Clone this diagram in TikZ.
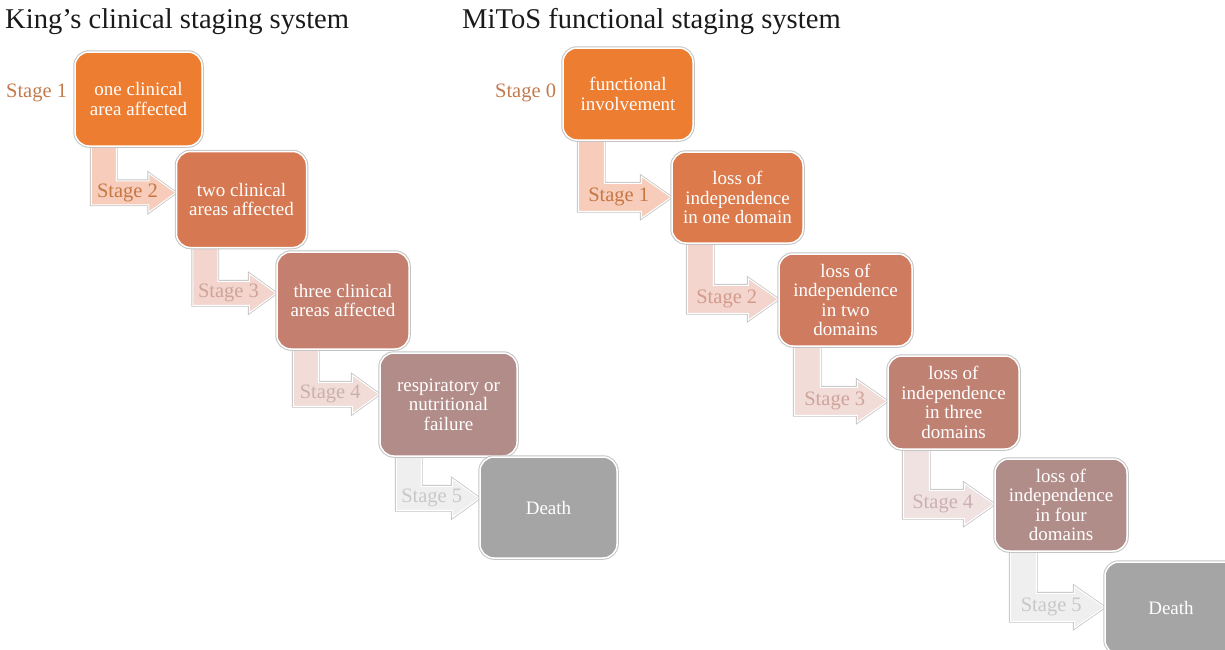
\documentclass[tikz,border=0pt]{standalone}
\usepackage{fontspec}
\setmainfont{Liberation Serif}
\usetikzlibrary{calc,backgrounds}
\definecolor{LA}{HTML}{ED7D31}
\definecolor{LB}{HTML}{D67851}
\definecolor{LC}{HTML}{C47F6E}
\definecolor{LD}{HTML}{B28C88}
\definecolor{GR}{HTML}{A5A5A5}
\definecolor{RB}{HTML}{DC7A4B}
\definecolor{RC}{HTML}{CE7B5F}
\definecolor{RD}{HTML}{BF8172}
\definecolor{RE}{HTML}{B18D8A}
\definecolor{AF1}{HTML}{F7CCBA}
\definecolor{AF2}{HTML}{F3D5CD}
\definecolor{AF3}{HTML}{F1DCD8}
\definecolor{AF4}{HTML}{EFE2E1}
\definecolor{AF5}{HTML}{EFEFEF}
\definecolor{TA}{HTML}{C27A4C}
\definecolor{TB}{HTML}{C67744}
\definecolor{TC}{HTML}{D49A8B}
\definecolor{TD}{HTML}{CFA39B}
\definecolor{TE}{HTML}{CDB0AD}
\definecolor{TF}{HTML}{C8C8C8}
\definecolor{boxedge}{HTML}{C4C4C4}
\definecolor{arredge}{HTML}{C4C4C4}
\definecolor{ttl}{HTML}{1A1A1A}
\tikzset{
  box/.style={rounded corners=14pt, text=white, align=center,
    font=\fontsize{19}{19.5}\selectfont, inner sep=0pt,
    line width=1.5pt, draw=white, preaction={draw=boxedge, line width=3.5pt}},
  arr/.style={line width=1pt, draw=white, line join=miter,
    preaction={draw=arredge, line width=2.6pt}},
  stagein/.style={font=\fontsize{20.5}{24}\selectfont, inner sep=0pt},
  stageout/.style={font=\fontsize{20.5}{24}\selectfont, inner sep=0pt, anchor=east},
  ttlstyle/.style={font=\fontsize{28.6}{32}\selectfont, inner sep=0pt, anchor=base west, text=ttl},
}
\newcommand\bend[6]{%
  \coordinate (#6s) at ($(#1.south west)+(\SO,-4)$);
  \coordinate (#6t) at ($(#2.north west)+(0,\TDN)$);
  \draw[arr, fill=#3] (#6s) -- ++(\SW,0) |- ($(#6t)+(-\HL,-\SH/2)$)
     -- ($(#6t)+(-\HL,-\HH/2)$) -- (#6t) -- ($(#6t)+(-\HL,\HH/2)$)
     -- ($(#6t)+(-\HL,\SH/2)$) -| (#6s) -- cycle;
  \node[stagein, text=#4] (#6) at ($(#6s |- #6t)!0.5!(#6t)+(-6,0)$) {#5};
}
\begin{document}
\begin{tikzpicture}[x=1pt, y=-1pt]
\useasboundingbox (0,0) rectangle (1225,649);
\clip (0,0) rectangle (1225,649);

\node[ttlstyle] (T1) at (5,28) {King’s clinical staging system};
\node[ttlstyle] (T2) at (462,28) {MiToS functional staging system};

% left chain
\node[box, fill=LA, minimum width=127pt, minimum height=94pt] (L1) at (138.5,99) {one clinical\\area affected};
\node[box, fill=LB, minimum width=130pt, minimum height=96pt] (L2) at (241.5,199.5) {two clinical\\areas affected};
\node[box, fill=LC, minimum width=132pt, minimum height=97pt] (L3) at (343,300.5) {three clinical\\areas affected};
\node[box, fill=LD, minimum width=137pt, minimum height=103pt] (L4) at (448.5,404.5) {respiratory or\\nutritional\\failure};
\node[box, fill=GR, minimum width=137pt, minimum height=101pt] (L5) at (548.5,507.5) {Death};
\node[stageout, text=TA] (L1lab) at ($(L1.west)+(-7,-6)$) {Stage 1};

% right chain
\node[box, fill=LA, minimum width=130pt, minimum height=92pt] (R0) at (628,94) {functional\\involvement};
\node[box, fill=RB, minimum width=131pt, minimum height=91pt] (R1) at (737.5,197.5) {loss of\\independence\\in one domain};
\node[box, fill=RC, minimum width=133pt, minimum height=92pt] (R2) at (845.5,300) {loss of\\independence\\in two\\domains};
\node[box, fill=RD, minimum width=131pt, minimum height=93pt] (R3) at (953.5,402.5) {loss of\\independence\\in three\\domains};
\node[box, fill=RE, minimum width=132pt, minimum height=92pt] (R4) at (1061,505) {loss of\\independence\\in four\\domains};
\node[box, fill=GR, minimum width=132pt, minimum height=92pt] (R5) at (1171,608) {Death};
\node[stageout, text=TA] (R0lab) at ($(R0.west)+(-6,-1)$) {Stage 0};

\begin{pgfonlayer}{background}
\def\SO{17}\def\SW{25}\def\TDN{42}\def\SH{24}\def\HH{39}\def\HL{27}
\bend{L1}{L2}{AF1}{TB}{Stage 2}{LA2}
\bend{L2}{L3}{AF2}{TD}{Stage 3}{LA3}
\bend{L3}{L4}{AF3}{TE}{Stage 4}{LA4}
\bend{L4}{L5}{AF5}{TF}{Stage 5}{LA5}
\def\SO{16}\def\SW{26}\def\TDN{46}\def\SH{28}\def\HH{42}\def\HL{30}
\bend{R0}{R1}{AF1}{TB}{Stage 1}{RA1}
\bend{R1}{R2}{AF2}{TC}{Stage 2}{RA2}
\bend{R2}{R3}{AF3}{TD}{Stage 3}{RA3}
\bend{R3}{R4}{AF4}{TE}{Stage 4}{RA4}
\bend{R4}{R5}{AF5}{TF}{Stage 5}{RA5}
\end{pgfonlayer}
\end{tikzpicture}
\end{document}
